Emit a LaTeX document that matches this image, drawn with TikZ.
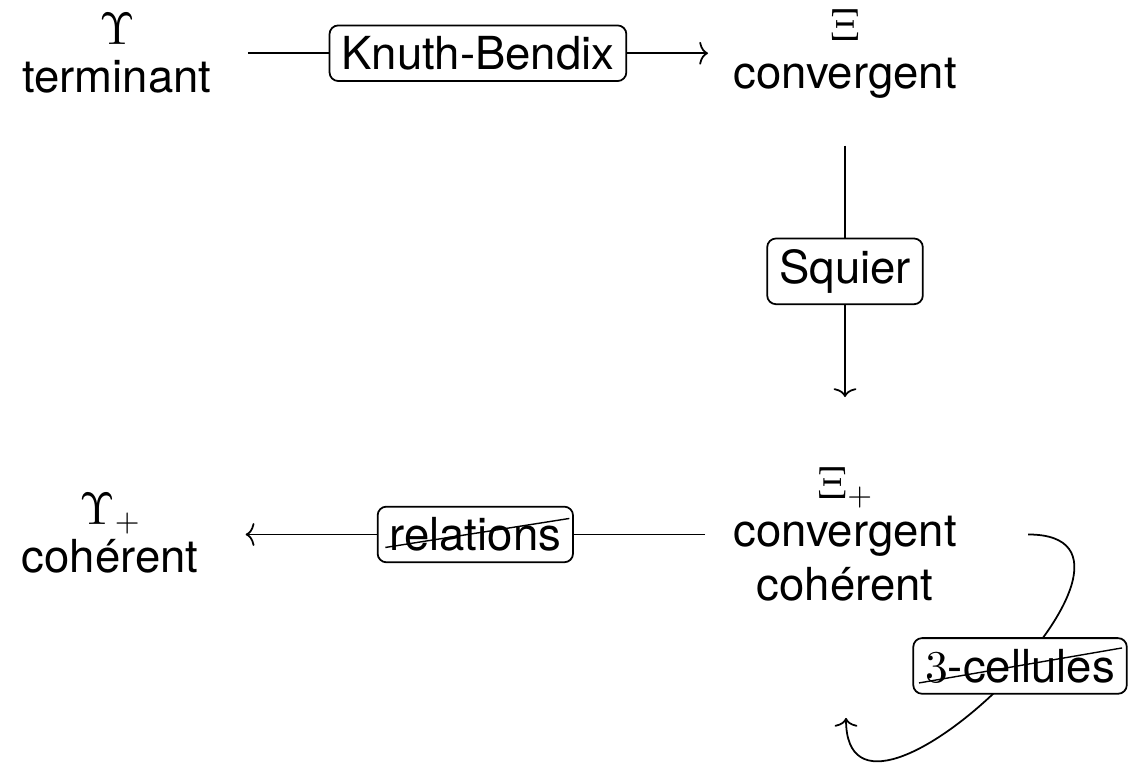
\documentclass[tikz,border=0pt]{standalone}
\usepackage[no-math]{fontspec}
\setmainfont{TeX Gyre Heros}
% math glyphs taken from the 10pt design size at every size
\DeclareFontFamily{OT1}{cmr}{\hyphenchar\font45}
\DeclareFontShape{OT1}{cmr}{m}{n}{<-> cmr10}{}
\DeclareFontFamily{OML}{cmm}{\skewchar\font127}
\DeclareFontShape{OML}{cmm}{m}{it}{<-> cmmi10}{}
\DeclareFontFamily{OMS}{cmsy}{\skewchar\font48}
\DeclareFontShape{OMS}{cmsy}{m}{n}{<-> cmsy10}{}
\usetikzlibrary{arrows.meta,calc}

\begin{document}
\begin{tikzpicture}[x=0.02cm,y=-0.02cm,
  every node/.style={font=\fontsize{25.9pt}{31pt}\selectfont},
  vertex/.style={align=center, inner sep=0pt, anchor=north},
  lbl/.style={draw, rounded corners=5pt, fill=white, inner xsep=6.8pt,
              inner ysep=6.2pt, line width=1pt},
  arr/.style={line width=1pt, -{To[length=5pt,width=13pt]}},
  strike/.style={line width=0.8pt}]
\useasboundingbox (0,0) rectangle (1131,762);

% the four rewriting systems
\node[vertex] (term) at (117,13)  {$\Upsilon$\\[-3.7pt]terminant};
\node[vertex] (conv) at (845,9)   {$\Xi$\\[-3.7pt]convergent};
\node[vertex] (cc)   at (845,467) {$\Xi_+$\\[-3.7pt]convergent\\cohérent};
\node[vertex] (cl)   at (110,493) {$\Upsilon_+$\\[-3.7pt]cohérent};

% completion
\draw[arr] ($(term.east)+(36,0)$) -- node[lbl] (kb) {Knuth-Bendix}
           ($(term.east -| conv.west)+(-25,0)$);
% homotopical completion
\draw[arr] ($(conv.south)+(0,47)$) -- node[lbl] (sq) {Squier}
           ($(conv.south |- cc.north)+(0,-70)$);
% removing relations
\draw[arr] ($(cc.west)+(-28,0)$) -- node[lbl] (rel) {relations}
           ($(cc.west -| cl.east)+(47,0)$);
\draw[strike] ($(rel.center)+(-90,13)$) -- ($(rel.center)+(94,-16)$);
% removing 3-cells
\draw[arr] ($(cc.east)+(71,0)$) .. controls +(170,0) and +(0,160) ..
           node[lbl,pos=0.45] (cel) {$3$-cellules}
           ($(cc.south)+(1,116)$);
\draw[strike] ($(cel.center)+(-101,17)$) -- ($(cel.center)+(102,-18)$);
\end{tikzpicture}
\end{document}
